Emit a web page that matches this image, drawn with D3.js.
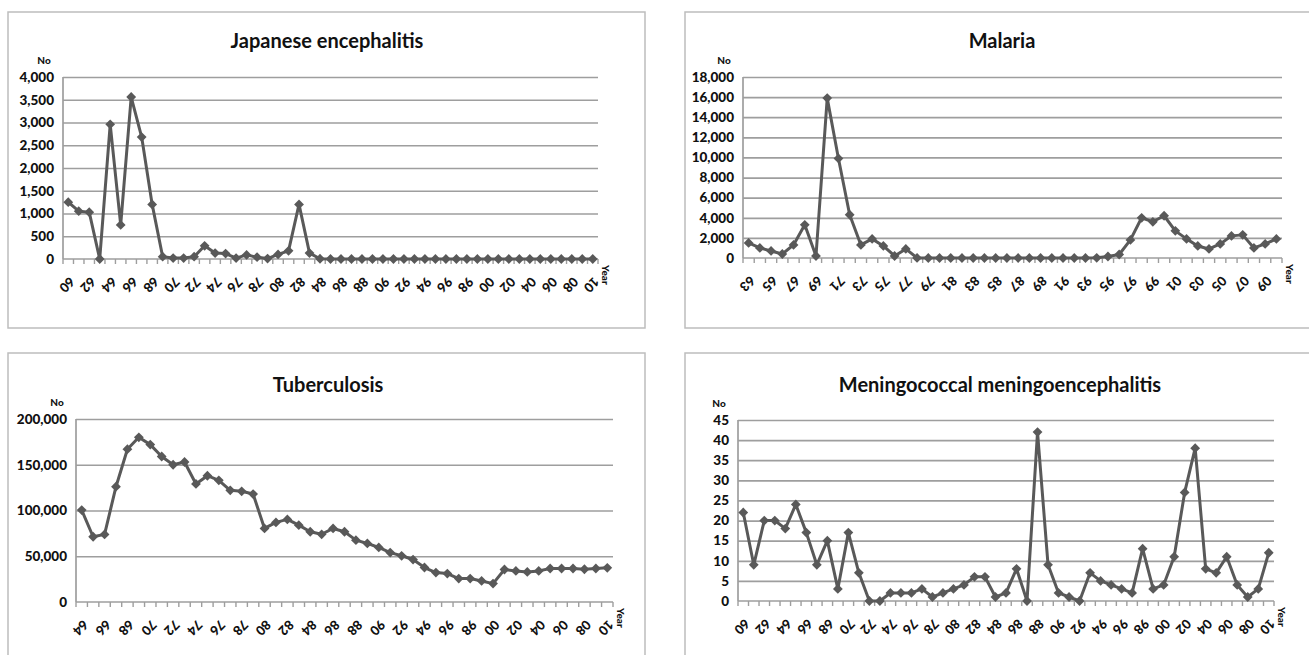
<!DOCTYPE html>
<html>
<head>
<meta charset="utf-8">
<script src="https://cdn.jsdelivr.net/npm/d3@7"></script>
<style>
  html, body { margin: 0; padding: 0; background: #ffffff; }
  svg { display: block; font-family: Lato, "Open Sans", "DejaVu Sans", sans-serif; }
</style>
</head>
<body>
<svg id="chart" width="1309" height="655"></svg>
<script>
// ---- Japanese encephalitis, 1960–2010 ----
const jeYears = ["60","61","62","63","64","65","66","67","68","69","70","71","72","73","74","75","76","77","78","79",
  "80","81","82","83","84","85","86","87","88","89","90","91","92","93","94","95","96","97","98","99",
  "00","01","02","03","04","05","06","07","08","09","10"];
const jeCases = [1250,1050,1030,0,2960,750,3560,2680,1200,50,20,20,50,290,130,120,20,90,40,10,
  100,180,1200,130,5,0,0,0,0,0,0,0,0,0,0,0,0,0,0,0,
  0,0,0,0,0,0,0,0,0,0,0];
const jeTicks = [0,500,1000,1500,2000,2500,3000,3500,4000];

// ---- Malaria, 1963–2010 ----
const malariaYears = ["63","64","65","66","67","68","69","70","71","72","73","74","75","76","77","78","79",
  "80","81","82","83","84","85","86","87","88","89","90","91","92","93","94","95","96","97","98","99",
  "00","01","02","03","04","05","06","07","08","09","10"];
const malariaCases = [1500,1000,700,400,1300,3300,200,15900,9900,4300,1300,1900,1200,200,900,10,0,
  0,0,0,0,0,0,0,0,0,0,0,0,0,1,20,150,350,1800,4000,3600,
  4200,2700,1900,1200,900,1400,2200,2300,1000,1400,1900];
const malariaTicks = [0,2000,4000,6000,8000,10000,12000,14000,16000,18000];

// ---- Tuberculosis, 1964–2010 ----
const tbYears = ["64","65","66","67","68","69","70","71","72","73","74","75","76","77","78","79",
  "80","81","82","83","84","85","86","87","88","89","90","91","92","93","94","95","96","97","98","99",
  "00","01","02","03","04","05","06","07","08","09","10"];
const tbCases = [100500,71300,73900,126000,167000,180000,172000,159000,150000,153000,129000,138000,133000,122000,121000,118000,
  80400,87000,90300,84000,76800,74000,80400,76800,67600,64000,59600,54000,50500,46400,37700,32200,31100,25600,25600,23000,
  20100,35500,34000,32900,34000,36600,36600,36600,35800,36600,37300];
const tbTicks = [0,50000,100000,150000,200000];

// ---- Meningococcal meningoencephalitis, 1960–2010 ----
const mengYears = ["60","61","62","63","64","65","66","67","68","69","70","71","72","73","74","75","76","77","78","79",
  "80","81","82","83","84","85","86","87","88","89","90","91","92","93","94","95","96","97","98","99",
  "00","01","02","03","04","05","06","07","08","09","10"];
const mengCases = [22,9,20,20,18,24,17,9,15,3,17,7,0,0,2,2,2,3,1,2,
  3,4,6,6,1,2,8,0,42,9,2,1,0,7,5,4,3,2,13,3,
  4,11,27,38,8,7,11,4,1,3,12];
const mengTicks = [0,5,10,15,20,25,30,35,40,45];

const titles = ["Japanese encephalitis","Malaria","Tuberculosis","Meningococcal meningoencephalitis"];

// Panel frames and plot areas
const panels = [
  { title: titles[0], years: jeYears, values: jeCases, ticks: jeTicks,
    box: {x: 8, y: 12, w: 637, h: 316}, plot: {l: 63, t: 77, r: 598, b: 259}, titleX: 327, titleY: 48 },
  { title: titles[1], years: malariaYears, values: malariaCases, ticks: malariaTicks,
    box: {x: 685, y: 12, w: 640, h: 316}, plot: {l: 743, t: 77, r: 1282, b: 258}, titleX: 1002, titleY: 48 },
  { title: titles[2], years: tbYears, values: tbCases, ticks: tbTicks,
    box: {x: 8, y: 353, w: 637, h: 320}, plot: {l: 76, t: 419, r: 613, b: 602}, titleX: 328, titleY: 392 },
  { title: titles[3], years: mengYears, values: mengCases, ticks: mengTicks,
    box: {x: 685, y: 353, w: 640, h: 320}, plot: {l: 738, t: 420, r: 1274, b: 601}, titleX: 1000, titleY: 392 }
];

const svg = d3.select("#chart");
const lineColor = "#595959";
const gridColor = "#9e9e9e";
const fmt = d3.format(",");

panels.forEach(p => {
  const g = svg.append("g");

  // frame
  g.append("rect")
    .attr("x", p.box.x).attr("y", p.box.y)
    .attr("width", p.box.w).attr("height", p.box.h)
    .attr("fill", "none").attr("stroke", "#bdbdbd").attr("stroke-width", 1.5);

  const x = d3.scaleBand().domain(p.years).range([p.plot.l, p.plot.r]).padding(0);
  const y = d3.scaleLinear().domain([0, d3.max(p.ticks)]).range([p.plot.b, p.plot.t]);

  // horizontal gridlines
  g.append("g")
    .attr("transform", `translate(${p.plot.l},0)`)
    .call(d3.axisLeft(y).tickValues(p.ticks.slice(1)).tickSize(-(p.plot.r - p.plot.l)).tickFormat(""))
    .call(a => a.select(".domain").remove())
    .call(a => a.selectAll("line").attr("stroke", gridColor).attr("stroke-width", 1.7));

  // y tick labels
  g.append("g")
    .attr("transform", `translate(${p.plot.l - 6},0)`)
    .call(d3.axisLeft(y).tickValues(p.ticks).tickSize(0).tickFormat(fmt))
    .call(a => a.select(".domain").remove())
    .call(a => a.selectAll("text")
      .attr("font-family", "Lato, sans-serif")
      .attr("font-weight", "900").attr("font-size", 13.5).attr("fill", "#111"));

  // "No" label above y axis
  g.append("text")
    .attr("x", p.plot.l - 19).attr("y", p.plot.t - 13)
    .attr("text-anchor", "middle")
    .attr("font-weight", "900").attr("font-size", 10).attr("fill", "#111")
    .text("No");

  // left axis line
  g.append("line")
    .attr("x1", p.plot.l).attr("x2", p.plot.l)
    .attr("y1", p.plot.t).attr("y2", p.plot.b)
    .attr("stroke", gridColor).attr("stroke-width", 1.7);

  // bottom axis: tick marks at category boundaries
  const xAxis = g.append("g").attr("transform", `translate(0,${p.plot.b})`);
  xAxis.append("line")
    .attr("x1", p.plot.l).attr("x2", p.plot.r)
    .attr("stroke", gridColor).attr("stroke-width", 1.7);
  xAxis.selectAll("line.tk")
    .data(p.years.concat(["end"]))
    .join("line").attr("class", "tk")
    .attr("x1", (d, i) => p.plot.l + i * x.step())
    .attr("x2", (d, i) => p.plot.l + i * x.step())
    .attr("y1", 0).attr("y2", 5)
    .attr("stroke", gridColor).attr("stroke-width", 1.4);

  // category labels, every other year
  const shown = p.years.filter((d, i) => i % 2 === 0);
  g.append("g").selectAll("text")
    .data(shown)
    .join("text")
    .attr("transform", d => `translate(${x(d) + x.bandwidth() / 2 - 1},${p.plot.b + 26}) rotate(135)`)
    .attr("text-anchor", "middle")
    .attr("dominant-baseline", "central")
    .attr("font-weight", "900").attr("font-size", 13).attr("fill", "#111")
    .text(d => d);

  // "Year" label at the axis end
  g.append("text")
    .attr("transform", `translate(${p.plot.r + 4},${p.plot.b + 6}) rotate(90)`)
    .attr("text-anchor", "start")
    .attr("font-weight", "900").attr("font-size", 10).attr("fill", "#111")
    .text("Year");

  // title
  g.append("text")
    .attr("x", p.titleX).attr("y", p.titleY)
    .attr("text-anchor", "middle")
    .attr("font-weight", "bold").attr("font-size", 20).attr("fill", "#111")
    .text(p.title);

  // series line
  const pts = p.years.map((yr, i) => ({yr, v: p.values[i]}));
  const line = d3.line().x(d => x(d.yr) + x.bandwidth() / 2).y(d => y(d.v));
  g.append("path")
    .datum(pts)
    .attr("d", line)
    .attr("fill", "none").attr("stroke", lineColor)
    .attr("stroke-width", 3).attr("stroke-linejoin", "round");

  // diamond markers
  g.append("g").selectAll("path")
    .data(pts)
    .join("path")
    .attr("d", d3.symbol(d3.symbolSquare, 48))
    .attr("transform", d => `translate(${x(d.yr) + x.bandwidth() / 2},${y(d.v)}) rotate(45)`)
    .attr("fill", lineColor);
});
</script>
</body>
</html>
